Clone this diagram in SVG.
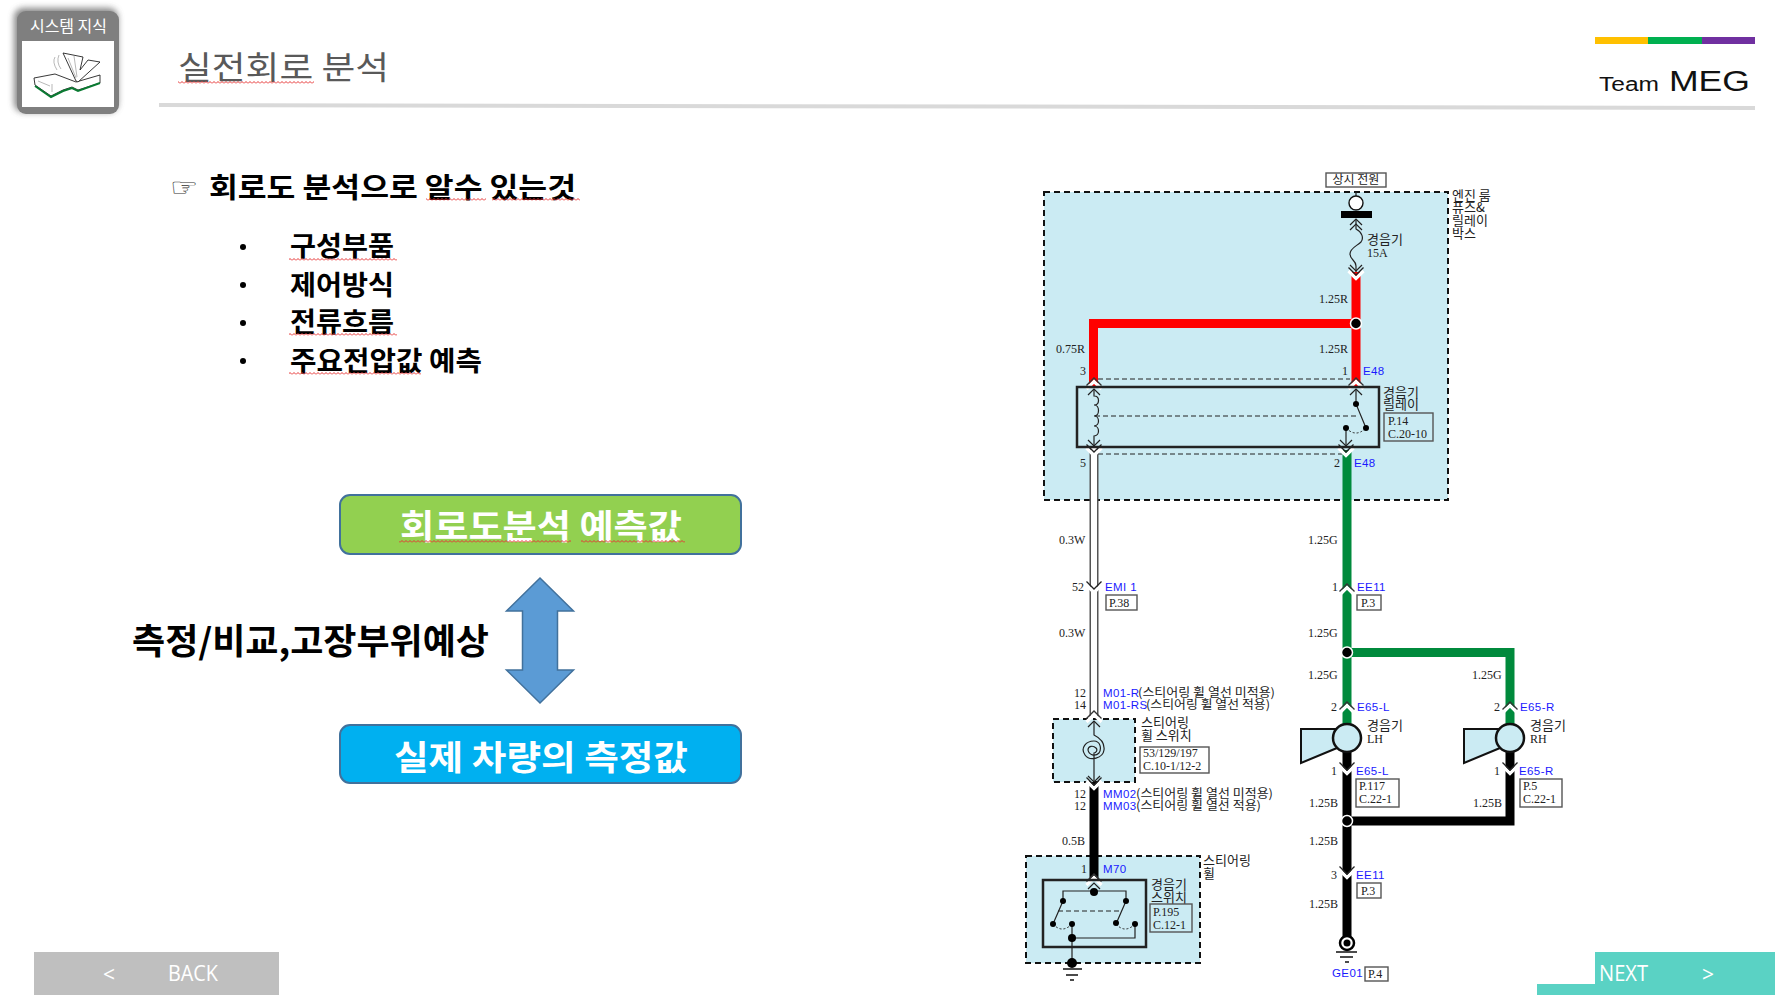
<svg xmlns="http://www.w3.org/2000/svg" xmlns:xlink="http://www.w3.org/1999/xlink" width="1790" height="1007" viewBox="0 0 1790 1007">
<style>
.kr{font-family:"Noto Sans CJK KR","Noto Sans",sans-serif}
.b{font-weight:700;fill:#000}
.w{fill:#fff}
.t{font-family:"Noto Sans CJK KR","Liberation Sans",sans-serif;font-size:12px;fill:#222}
.tl{font-family:"Noto Sans CJK KR","Liberation Sans",sans-serif;font-size:13px;fill:#222}
.s{font-family:"Liberation Serif",serif;font-size:12px;fill:#222}
.e{font-family:"Liberation Sans",sans-serif;font-size:11.5px;fill:#1a1aff;letter-spacing:.4px}
.box{fill:none;stroke:#555;stroke-width:1.4}
.zone{fill:#cbebf3;stroke:#111;stroke-width:2;stroke-dasharray:6 4}
.frame{fill:none;stroke:#222;stroke-width:2.5}
.dash{fill:none;stroke:#222;stroke-width:1;stroke-dasharray:5 3}
.thin{fill:none;stroke:#222;stroke-width:1.2}
.dot{fill:#000}
.red{fill:none;stroke:#f00;stroke-width:9}
.grn{fill:none;stroke:#008a3c;stroke-width:9}
.blk{fill:none;stroke:#000;stroke-width:9}
.wo{fill:none;stroke:#555;stroke-width:9}
.wi{fill:none;stroke:#fff;stroke-width:6}
.wav{fill:url(#wavy)}
.ar{fill:#5b9bd5;stroke:#41719c;stroke-width:1.5}
.ph{stroke:#41719c;stroke-width:2}
</style>
<defs>
<pattern id="wavy" x="0" y="0" width="4" height="3" patternUnits="userSpaceOnUse"><path d="M0 2.5L2 .5L4 2.5" fill="none" stroke="#e63232" stroke-width="1"/></pattern>
<filter id="sh" x="-20%" y="-20%" width="140%" height="140%"><feGaussianBlur stdDeviation="3"/></filter>
<g id="up"><path d="M-7.5 5L0 -2.5L7.5 5" fill="none" stroke="#fff" stroke-width="3.2"/><path d="M-7.5 1.5L0 -6L7.5 1.5" fill="none" stroke="#333" stroke-width="1.3"/></g>
<g id="dn"><path d="M-7.5 -5L0 2.5L7.5 -5" fill="none" stroke="#fff" stroke-width="3.2"/><path d="M-7.5 -8.5L0 -1L7.5 -8.5" fill="none" stroke="#222" stroke-width="1.3"/></g>
<g id="ua"><path d="M-6 6L0 0L6 6" fill="none" stroke="#222" stroke-width="1.2"/></g>
<g id="da"><path d="M-6 -6L0 0L6 -6" fill="none" stroke="#222" stroke-width="1.2"/></g>
</defs>
<rect width="1790" height="1007" fill="#fff"/>

<g id="badge">
<rect x="14" y="8" width="104" height="104" rx="9" fill="#555" opacity=".7" filter="url(#sh)"/>
<rect x="17" y="11" width="102" height="103" rx="9" fill="#7f7f7f"/>
<rect x="22" y="41" width="92" height="66" fill="#fff"/>
<text x="30" y="32" class="kr w" font-size="15.5" textLength="77" lengthAdjust="spacingAndGlyphs">시스템 지식</text>
<path d="M34 78L55 74L76 82L100 75L100 83L78 90L72 87L63 90L51 96L35 85Z" fill="#fff" stroke="#222" stroke-width=".9"/>
<path d="M35 86L51 97L63 91L72 88L78 91L100 83" fill="none" stroke="#0a7a32" stroke-width="2"/>
<path d="M76 81L63 53L83 57L80 70L88 60L100 62L78 82Z" fill="#fff" stroke="#222" stroke-width=".9"/>
<path d="M68 58L76 78M74 56L77 77M55 57Q52 62 57 70M59 55Q56 62 61 69M38 81L50 86M52 84L52 92" fill="none" stroke="#888" stroke-width=".6"/>
</g>

<g id="title">
<text x="178" y="79" class="kr" font-size="32" fill="#595959" textLength="211" lengthAdjust="spacingAndGlyphs">실전회로 분석</text>
<rect x="178" y="81" width="136" height="3" class="wav"/>
<path d="M159 105L1755 108" stroke="#d9d9d9" stroke-width="4" fill="none"/>
</g>

<g id="logo">
<rect x="1595" y="37" width="53" height="7" fill="#ffc000"/>
<rect x="1648" y="37" width="54" height="7" fill="#00b050"/>
<rect x="1702" y="37" width="53" height="7" fill="#7030a0"/>
<text x="1599" y="91" font-family="Liberation Sans,sans-serif" font-size="20" fill="#111" textLength="60" lengthAdjust="spacingAndGlyphs">Team</text>
<text x="1669" y="91" font-family="Liberation Sans,sans-serif" font-size="29" fill="#111" textLength="81" lengthAdjust="spacingAndGlyphs">MEG</text>
</g>

<g id="list">
<text x="170" y="196" font-family="DejaVu Sans,sans-serif" font-size="25" fill="#333" textLength="28" lengthAdjust="spacingAndGlyphs">☞</text>
<text x="209" y="198" class="kr b" font-size="28" textLength="367" lengthAdjust="spacingAndGlyphs">회로도 분석으로 알수 있는것</text>
<rect x="426" y="198" width="60" height="3" class="wav"/><rect x="492" y="198" width="88" height="3" class="wav"/>
<circle cx="243" cy="247" r="3"/><circle cx="243" cy="285" r="3"/><circle cx="243" cy="323" r="3"/><circle cx="243" cy="361" r="3"/>
<text x="290" y="256" class="kr b" font-size="27" textLength="104" lengthAdjust="spacingAndGlyphs">구성부품</text>
<text x="290" y="295" class="kr b" font-size="27" textLength="104" lengthAdjust="spacingAndGlyphs">제어방식</text>
<text x="290" y="332" class="kr b" font-size="27" textLength="104" lengthAdjust="spacingAndGlyphs">전류흐름</text>
<text x="290" y="371" class="kr b" font-size="27" textLength="192" lengthAdjust="spacingAndGlyphs">주요전압값 예측</text>
<rect x="289" y="258" width="108" height="3" class="wav"/>
<rect x="289" y="333" width="108" height="3" class="wav"/>
<rect x="289" y="372" width="132" height="3" class="wav"/>
</g>

<g id="box-predict">
<rect x="340" y="495" width="401" height="59" rx="10" fill="#92d050" class="ph"/>
<text x="400" y="539" class="kr w" font-weight="700" font-size="34" textLength="282" lengthAdjust="spacingAndGlyphs">회로도분석 예측값</text>
<rect x="399" y="540" width="172" height="3" class="wav"/><rect x="581" y="540" width="104" height="3" class="wav"/>
</g>
<g id="arrow-compare"><path class="ar" d="M540 578L573.5 611H557.5V670H573.5L540 703L506.5 670H522.5V611H506.5Z"/></g>
<g id="label-compare"><text x="132" y="654" class="kr b" font-size="35" textLength="357" lengthAdjust="spacingAndGlyphs">측정/비교,고장부위예상</text></g>
<g id="box-measure">
<rect x="340" y="725" width="401" height="58" rx="10" fill="#00b0f0" class="ph"/>
<text x="394" y="770" class="kr w" font-weight="700" font-size="34" textLength="294" lengthAdjust="spacingAndGlyphs">실제 차량의 측정값</text>
</g>

<g id="btn-back">
<rect x="34" y="952" width="245" height="43" fill="#bfbfbf"/>
<text x="103" y="982" font-family="Open Sans,sans-serif" font-size="21" fill="#fff">&lt;</text>
<text x="168" y="981" font-family="Open Sans,sans-serif" font-size="21" fill="#fff" textLength="50" lengthAdjust="spacingAndGlyphs">BACK</text>
</g>
<g id="btn-next">
<path d="M1595 952H1775V995H1537V984H1595Z" fill="#5ad2c4"/>
<text x="1599" y="981" font-family="Open Sans,sans-serif" font-size="21" fill="#fff" textLength="49" lengthAdjust="spacingAndGlyphs">NEXT</text>
<text x="1702" y="982" font-family="Open Sans,sans-serif" font-size="21" fill="#fff">&gt;</text>
</g>

<g id="zone-fusebox"><rect class="zone" x="1044" y="192" width="404" height="308"/></g>
<g id="zone-switch"><rect class="zone" x="1053" y="719" width="82" height="63"/></g>
<g id="zone-wheel"><rect class="zone" x="1026" y="856" width="174" height="107"/></g>

<g id="connectors">
<path class="red" d="M1356 272V386M1356 323.5H1093.5V386"/>
<path class="wo" d="M1094 448V718"/><path class="wi" d="M1094 448V718"/>
<path class="grn" d="M1347 450V725M1347 652.5H1510V725"/>
<path class="blk" d="M1094 782V880"/>
<path class="blk" d="M1347 750V937M1510 750V821H1347"/>
<circle cx="1356" cy="323.5" r="5.5" class="dot" stroke="#fff" stroke-width="1.5"/>
<circle cx="1347" cy="652.5" r="5.5" class="dot" stroke="#fff" stroke-width="1.5"/>
<circle cx="1347" cy="821" r="5.5" class="dot" stroke="#fff" stroke-width="1.5"/>
<path class="dash" d="M1098 379H1350M1095 416H1357M1098 454H1342"/>
<use href="#up" x="1094" y="384"/><use href="#up" x="1356" y="384"/>
<use href="#dn" x="1094" y="453"/><use href="#dn" x="1346" y="453"/>
<use href="#dn" x="1094" y="590"/><use href="#up" x="1094" y="717"/><use href="#dn" x="1094" y="786"/>
<use href="#up" x="1094" y="880"/>
<use href="#up" x="1347" y="590"/><use href="#up" x="1347" y="708"/><use href="#up" x="1510" y="708"/>
<use href="#dn" x="1347" y="771"/><use href="#dn" x="1510" y="771"/><use href="#dn" x="1347" y="875"/>
<use href="#dn" x="1356" y="276"/>
</g>

<g id="power">
<rect class="box" x="1326" y="173" width="60" height="14"/>
<text x="1356" y="184" class="t" text-anchor="middle">상시 전원</text>
<path class="thin" d="M1356 192V196"/>
<circle cx="1356" cy="203" r="7" fill="#fff" stroke="#111" stroke-width="1.4"/>
<rect x="1341" y="211" width="31" height="7" fill="#000"/>
<text x="1452" y="200" class="tl">엔진 룸</text><text x="1452" y="212" class="tl">퓨즈&amp;</text><text x="1452" y="225" class="tl">릴레이</text><text x="1452" y="238" class="tl">박스</text>
</g>
<g id="fuse">
<use href="#ua" x="1356" y="219"/><use href="#ua" x="1356" y="224"/>
<path class="thin" d="M1356 220V229C1362 232 1364 238 1361 242C1357 246 1350 248 1350 254C1350 260 1356 260 1356 266V272"/>
<use href="#da" x="1356" y="271"/>
<text x="1367" y="244" class="tl">경음기</text><text x="1367" y="257" class="s">15A</text>
</g>
<g id="relay">
<rect class="frame" x="1077" y="387" width="302" height="60"/>
<use href="#ua" x="1094" y="389"/><use href="#ua" x="1356" y="389"/>
<path class="thin" d="M1094 390V396C1100 396 1100 405 1094 405C1100 405 1100 416 1094 416C1100 416 1100 426 1094 426C1100 426 1100 436 1094 436V445"/>
<use href="#da" x="1094" y="446"/><use href="#da" x="1346" y="446"/>
<path class="thin" d="M1356 390V404L1366 428M1346 428V446"/>
<path d="M1346 428Q1356 438 1366 428" fill="none" stroke="#222" stroke-dasharray="2 2"/>
<circle cx="1356" cy="404" r="3" class="dot"/><circle cx="1366" cy="428" r="3" class="dot"/><circle cx="1346" cy="428" r="3" class="dot"/>
<text x="1383" y="397" class="tl">경음기</text><text x="1383" y="409" class="tl">릴레이</text>
<rect class="box" x="1384" y="413" width="49" height="28"/>
<text x="1388" y="425" class="s">P.14</text><text x="1388" y="438" class="s">C.20-10</text>
<text x="1319" y="303" class="s">1.25R</text><text x="1319" y="353" class="s">1.25R</text><text x="1056" y="353" class="s">0.75R</text>
<text x="1080" y="375" class="s">3</text><text x="1342" y="375" class="s">1</text><text x="1363" y="375" class="e">E48</text>
<text x="1080" y="467" class="s">5</text><text x="1334" y="467" class="s">2</text><text x="1354" y="467" class="e">E48</text>
</g>
<g id="connector-em11">
<text x="1059" y="544" class="s">0.3W</text><text x="1059" y="637" class="s">0.3W</text>
<text x="1072" y="591" class="s">52</text><text x="1105" y="591" class="e">EMI 1</text>
<rect class="box" x="1106" y="595" width="31" height="15"/><text x="1109" y="607" class="s">P.38</text>
</g>
<g id="connector-ee11-top">
<text x="1308" y="544" class="s">1.25G</text><text x="1308" y="637" class="s">1.25G</text><text x="1308" y="679" class="s">1.25G</text><text x="1472" y="679" class="s">1.25G</text>
<text x="1332" y="591" class="s">1</text><text x="1357" y="591" class="e">EE11</text>
<rect class="box" x="1357" y="595" width="24" height="15"/><text x="1361" y="607" class="s">P.3</text>
</g>
<g id="steering-switch">
<text x="1074" y="697" class="s">12</text><text x="1074" y="709" class="s">14</text>
<text x="1103" y="697" class="e">M01-R</text><text x="1138" y="697" class="t" textLength="137" lengthAdjust="spacingAndGlyphs">(스티어링 휠 열선 미적용)</text>
<text x="1103" y="709" class="e">M01-RS</text><text x="1146" y="709" class="t" textLength="124" lengthAdjust="spacingAndGlyphs">(스티어링 휠 열선 적용)</text>
<use href="#ua" x="1094" y="721"/>
<path class="thin" d="M1094 722V735C1100 738 1105 742 1104 750C1103 758 1090 762 1085 755C1080 748 1086 741 1094 741C1100 741 1102 748 1099 753C1095 757 1089 755 1088 750C1088 746 1093 745 1096 748C1098 750 1096 753 1094 753V782"/>
<use href="#da" x="1094" y="782"/>
<text x="1141" y="727" class="tl">스티어링</text><text x="1141" y="740" class="tl">휠 스위치</text>
<rect class="box" x="1140" y="747" width="69" height="26"/>
<text x="1143" y="757" class="s">53/129/197</text><text x="1143" y="770" class="s">C.10-1/12-2</text>
<text x="1074" y="798" class="s">12</text><text x="1074" y="810" class="s">12</text>
<text x="1103" y="798" class="e">MM02</text><text x="1136" y="798" class="t" textLength="137" lengthAdjust="spacingAndGlyphs">(스티어링 휠 열선 미적용)</text>
<text x="1103" y="810" class="e">MM03</text><text x="1136" y="810" class="t" textLength="125" lengthAdjust="spacingAndGlyphs">(스티어링 휠 열선 적용)</text>
<text x="1062" y="845" class="s">0.5B</text>
</g>
<g id="horn-switch">
<text x="1081" y="873" class="s">1</text><text x="1103" y="873" class="e">M70</text>
<text x="1203" y="865" class="tl">스티어링</text><text x="1203" y="878" class="tl">휠</text>
<rect class="frame" x="1043" y="880" width="103" height="67"/>
<use href="#ua" x="1094" y="883"/>
<path class="thin" d="M1063 901V891H1126V901M1063 901L1053 924M1126 901L1116 924M1072 924V963M1072 938H1135V924"/>
<path class="dash" d="M1058 911H1121"/>
<path d="M1053 924Q1062 934 1072 924M1116 924Q1125 934 1135 924" fill="none" stroke="#222" stroke-dasharray="2 2"/>
<circle cx="1094" cy="892" r="4" class="dot"/><circle cx="1063" cy="901" r="3" class="dot"/><circle cx="1126" cy="901" r="3" class="dot"/>
<circle cx="1053" cy="924" r="3" class="dot"/><circle cx="1072" cy="924" r="3" class="dot"/><circle cx="1116" cy="923" r="3" class="dot"/><circle cx="1135" cy="924" r="3" class="dot"/>
<circle cx="1072" cy="938" r="4" class="dot"/><circle cx="1072" cy="963" r="5" class="dot"/>
<path d="M1063 969H1082M1066 975H1078M1070 980H1074" stroke="#111" stroke-width="1.5" fill="none"/>
<text x="1151" y="889" class="tl">경음기</text><text x="1151" y="902" class="tl">스위치</text>
<rect class="box" x="1150" y="904" width="42" height="28"/>
<text x="1153" y="916" class="s">P.195</text><text x="1153" y="929" class="s">C.12-1</text>
</g>
<g id="horn-lh">
<path d="M1301 729H1337V748L1301 763Z" fill="#cbebf3" stroke="#111" stroke-width="2"/>
<circle cx="1347" cy="738" r="14" fill="#cbebf3" stroke="#111" stroke-width="2.5"/>
<text x="1367" y="730" class="tl">경음기</text><text x="1367" y="743" class="s">LH</text>
<text x="1331" y="711" class="s">2</text><text x="1357" y="711" class="e">E65-L</text>
<text x="1331" y="775" class="s">1</text><text x="1356" y="775" class="e">E65-L</text>
<rect class="box" x="1356" y="779" width="43" height="28"/>
<text x="1359" y="790" class="s">P.117</text><text x="1359" y="803" class="s">C.22-1</text>
<text x="1309" y="807" class="s">1.25B</text>
</g>
<g id="horn-rh">
<path d="M1464 729H1500V748L1464 763Z" fill="#cbebf3" stroke="#111" stroke-width="2"/>
<circle cx="1510" cy="738" r="14" fill="#cbebf3" stroke="#111" stroke-width="2.5"/>
<text x="1530" y="730" class="tl">경음기</text><text x="1530" y="743" class="s">RH</text>
<text x="1494" y="711" class="s">2</text><text x="1520" y="711" class="e">E65-R</text>
<text x="1494" y="775" class="s">1</text><text x="1519" y="775" class="e">E65-R</text>
<rect class="box" x="1520" y="779" width="42" height="28"/>
<text x="1523" y="790" class="s">P.5</text><text x="1523" y="803" class="s">C.22-1</text>
<text x="1473" y="807" class="s">1.25B</text>
</g>
<g id="ground">
<text x="1309" y="845" class="s">1.25B</text><text x="1309" y="908" class="s">1.25B</text>
<text x="1331" y="879" class="s">3</text><text x="1356" y="879" class="e">EE11</text>
<rect class="box" x="1357" y="883" width="24" height="15"/><text x="1361" y="895" class="s">P.3</text>
<circle cx="1347" cy="943" r="7" fill="#fff" stroke="#000" stroke-width="2.5"/><circle cx="1347" cy="943" r="3.5" class="dot"/>
<path d="M1336 952H1357M1340 957H1353M1345 962H1349" stroke="#111" stroke-width="1.5" fill="none"/>
<text x="1332" y="977" class="e">GE01</text>
<rect class="box" x="1365" y="967" width="23" height="14"/><text x="1368" y="978" class="s">P.4</text>
</g>
</svg>
